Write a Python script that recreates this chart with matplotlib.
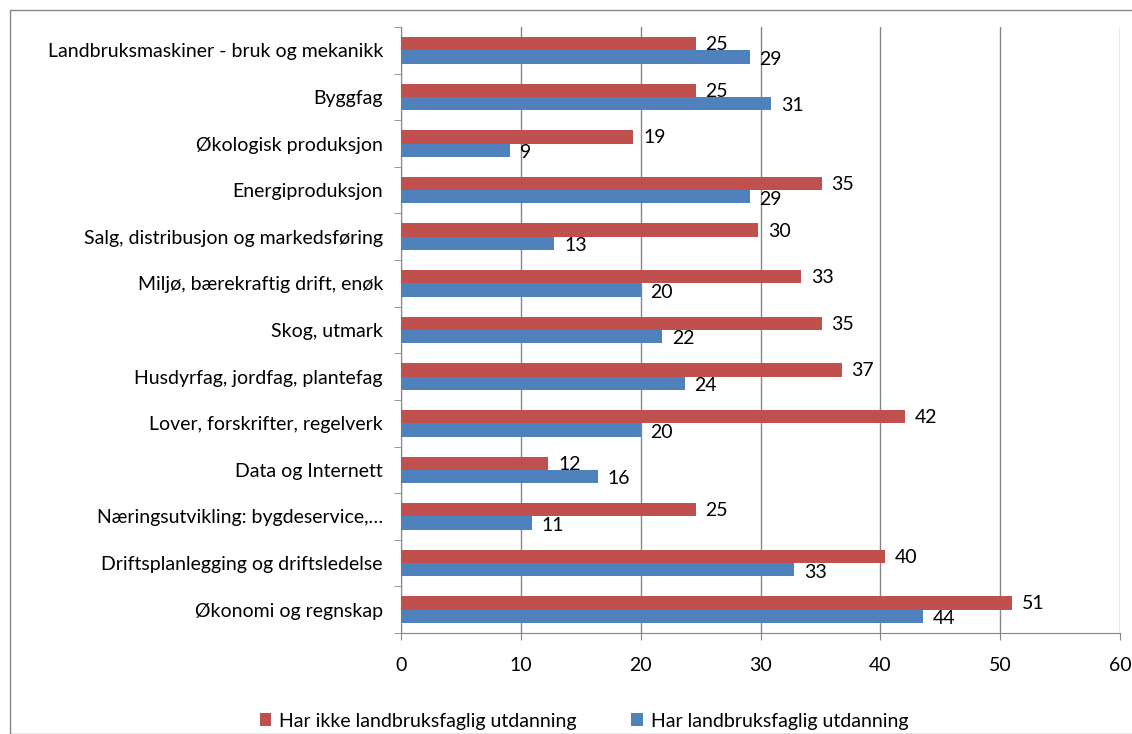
import numpy as np
import matplotlib.pyplot as plt
from matplotlib.patches import Rectangle

plt.rcParams['font.family'] = ['Lato', 'DejaVu Sans']

categories = [
    "Landbruksmaskiner - bruk og mekanikk",
    "Byggfag",
    "Økologisk produksjon",
    "Energiproduksjon",
    "Salg, distribusjon og markedsføring",
    "Miljø, bærekraftig drift, enøk",
    "Skog, utmark",
    "Husdyrfag, jordfag, plantefag",
    "Lover, forskrifter, regelverk",
    "Data og Internett",
    "Næringsutvikling: bygdeservice,…",
    "Driftsplanlegging og driftsledelse",
    "Økonomi og regnskap",
]
ikke_landbruk = [24.6, 24.6, 19.4, 35.1, 29.8, 33.4, 35.1, 36.8, 42.1, 12.3, 24.6, 40.4, 51.0]
landbruk = [29.1, 30.9, 9.1, 29.1, 12.8, 20.0, 21.8, 23.7, 20.0, 16.4, 10.9, 32.8, 43.6]

red = "#C0504D"
blue = "#4F81BD"
fs = 14

fig = plt.figure(figsize=(11.32, 7.34), dpi=100)
ax = fig.add_axes([401 / 1132, 1 - 633 / 734, (1120 - 401) / 1132, (633 - 27) / 734])

y = np.arange(len(categories))[::-1]
h = 0.285
ax.barh(y + h / 2, ikke_landbruk, height=h, color=red, label="Har ikke landbruksfaglig utdanning", zorder=3)
ax.barh(y - h / 2, landbruk, height=h, color=blue, label="Har landbruksfaglig utdanning", zorder=3)

for yi, v in zip(y, ikke_landbruk):
    ax.text(v + 0.8, yi + h / 2 - 0.02, f"{v:.0f}", va="center", ha="left", fontsize=fs)
for yi, v in zip(y, landbruk):
    ax.text(v + 0.8, yi - h / 2 - 0.05, f"{v:.0f}", va="center", ha="left", fontsize=fs)

ax.set_xlim(0, 60)
ax.set_ylim(-0.5, len(categories) - 0.5)
ax.set_xticks(range(0, 61, 10))
ax.set_yticks(y)
ax.set_yticklabels(categories, fontsize=fs)
ax.set_yticks(np.arange(-0.5, len(categories), 1), minor=True)
ax.tick_params(axis="y", which="major", length=0, pad=13)
ax.tick_params(axis="y", which="minor", length=5, color="#868686")
ax.tick_params(axis="x", length=5, color="#868686", labelsize=fs, pad=12)
ax.xaxis.grid(True, color="#868686", linewidth=1, zorder=0)

for s in ["top", "right"]:
    ax.spines[s].set_visible(False)
for s in ["left", "bottom"]:
    ax.spines[s].set_color("#868686")

ax.legend(loc="upper center", ncol=2, frameon=False,
          fontsize=fs, handlelength=0.6, handleheight=0.6, columnspacing=2.8, handletextpad=0.4,
          bbox_to_anchor=(584 / 1132, 1 - 695 / 734), bbox_transform=fig.transFigure)

fig.patches.append(Rectangle((10 / 1132, 0), 1.2, 1 - 10 / 734, transform=fig.transFigure,
                             fill=False, edgecolor="#868686", linewidth=1))

fig.savefig("out.png", dpi=100)
